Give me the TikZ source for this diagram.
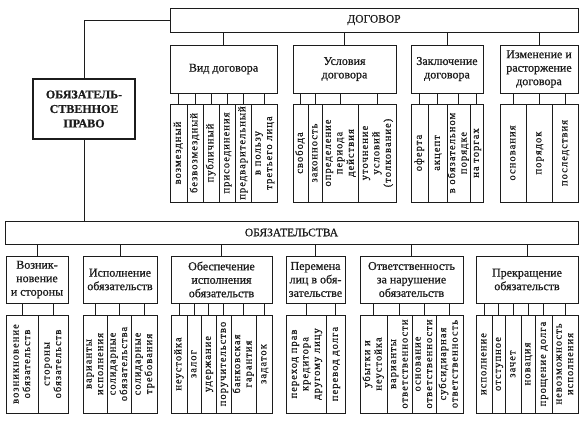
\documentclass[tikz,border=0pt]{standalone}
\usepackage{fontspec}
\usepackage{graphicx}
\setmainfont[FakeBold=0.7]{Liberation Serif}
\newfontfamily\colfont[LetterSpace=10, FakeBold=0.7]{Liberation Serif}
\usepackage{tikz}
\usetikzlibrary{positioning}
\definecolor{ink}{HTML}{1C1C1C}
\tikzset{
  % --- nodes
  box/.style  = {draw=ink, text=ink, line width=0.9pt, align=center,
                 inner sep=2pt, outer sep=0pt, fill=white},
  root/.style = {box, line width=2.2pt, minimum width=102pt, minimum height=60pt,
                 font=\bfseries\fontsize{12}{14.5}\selectfont},
  head/.style = {box, font=\fontsize{11.5}{13}\selectfont},
  grp/.style  = {box, minimum height=48pt, font=\fontsize{12}{13.5}\selectfont},
  col/.style  = {box, inner sep=0pt, anchor=north west, minimum height=98pt,
                 font=\colfont\fontsize{10.5}{11.5}\selectfont},
  % --- edges
  e/.style    = {draw=ink, line width=0.9pt},
}
\newcommand{\vt}[1]{\rotatebox{90}{\begin{tabular}{@{}c@{}}#1\end{tabular}}}

\begin{document}
\begin{tikzpicture}[x=1pt, y=-1pt]
  \useasboundingbox (0,0) rectangle (588,426);

  % ------------------------------------------------------------------ root
  \node[root] (root) at (84,109) {ОБЯЗАТЕЛЬ-\\СТВЕННОЕ\\ПРАВО};

  % ------------------------------------------------------------------ heads
  \node[head, minimum width=408pt, minimum height=24pt] (dog) at (374,20) {ДОГОВОР};
  \node[head, minimum width=573pt, minimum height=23pt] (obl) at (291.5,232.5) {ОБЯЗАТЕЛЬСТВА};

  \draw[e] (root.north) |- (dog.west);
  \draw[e] (root.south) -- (root.south |- obl.north);

  % ------------------------------------------------- contract groups
  \node[grp, minimum width=107pt] (vid)  at (223.5,69) {Вид договора};
  \node[grp, minimum width=103pt] (usl)  at (344.5,69) {Условия\\договора};
  \node[grp, minimum width=72pt]  (zakl) at (447,69)   {Заключение\\договора};
  \node[grp, minimum width=78pt]  (izm)  at (539,69)   {Изменение и\\расторжение\\договора};

  \draw[e] (vid.north)  -- (vid.north |- dog.south)
           (usl.north)  -- (usl.north |- dog.south)
           (zakl.north) -- (zakl.north |- dog.south)
           (izm.north)  -- (izm.north |- dog.south);

  % ------------------------------------------------- contract columns
  \node[col, minimum width=17pt] (v1) at (170,104) {\vt{возмездный}};
  \node[col, minimum width=16pt, right=0pt of v1] (v2) {\vt{безвозмездный}};
  \node[col, minimum width=16pt, right=0pt of v2] (v3) {\vt{публичный}};
  \node[col, minimum width=16pt, right=0pt of v3] (v4) {\vt{присоединения}};
  \node[col, minimum width=16pt, right=0pt of v4] (v5) {\vt{предварительный}};
  \node[col, minimum width=26pt, right=0pt of v5] (v6) {\vt{в пользу\\третьего лица}};

  \node[col, minimum width=15pt] (u1) at (293,104) {\vt{свобода}};
  \node[col, minimum width=14pt, right=0pt of u1] (u2) {\vt{законность}};
  \node[col, minimum width=36pt, right=0pt of u2] (u3) {\vt{определение\\периода\\действия}};
  \node[col, minimum width=38pt, right=0pt of u3] (u4) {\vt{уточнение\\условий\\(толкование)}};

  \node[col, minimum width=17pt] (z1) at (411,104) {\vt{оферта}};
  \node[col, minimum width=19pt, right=0pt of z1] (z2) {\vt{акцепт}};
  \node[col, minimum width=23pt, right=0pt of z2] (z3) {\vt{в обязательном\\порядке}};
  \node[col, minimum width=13pt, right=0pt of z3] (z4) {\vt{на торгах}};

  \node[col, minimum width=26pt] (i1) at (500,104) {\vt{основания}};
  \node[col, minimum width=26pt, right=0pt of i1] (i2) {\vt{порядок}};
  \node[col, minimum width=26pt, right=0pt of i2] (i3) {\vt{последствия}};

  \draw[e] (v1.north) -- (v1.north |- vid.south)  (v2.north) -- (v2.north |- vid.south)
           (v3.north) -- (v3.north |- vid.south)  (v4.north) -- (v4.north |- vid.south)
           (v5.north) -- (v5.north |- vid.south)  (v6.north) -- (v6.north |- vid.south);
  \draw[e] (u1.north) -- (u1.north |- usl.south)  (u2.north) -- (u2.north |- usl.south)
           (u3.north) -- (u3.north |- usl.south)  (u4.north) -- (u4.north |- usl.south);
  \draw[e] (z1.north) -- (z1.north |- zakl.south) (z2.north) -- (z2.north |- zakl.south)
           (z3.north) -- (z3.north |- zakl.south) (z4.north) -- (z4.north |- zakl.south);
  \draw[e] (i1.north) -- (i1.north |- izm.south)  (i2.north) -- (i2.north |- izm.south)
           (i3.north) -- (i3.north |- izm.south);

  % ------------------------------------------------- obligation groups
  \node[grp, minimum width=62pt,  minimum height=47pt] (voz)  at (37,279.5)    {Возник-\\новение\\и стороны};
  \node[grp, minimum width=74pt,  minimum height=47pt] (isp)  at (120,279.5)   {Исполнение\\обязательств};
  \node[grp, minimum width=101pt, minimum height=47pt] (obes) at (221.5,279.5) {Обеспечение\\исполнения\\обязательств};
  \node[grp, minimum width=59pt,  minimum height=47pt] (per)  at (315.5,279.5) {Перемена\\лиц в обя-\\зательстве};
  \node[grp, minimum width=103pt, minimum height=47pt] (otv)  at (411.5,279.5) {Ответственность\\за нарушение\\обязательств};
  \node[grp, minimum width=102pt, minimum height=47pt] (prek) at (527,279.5)   {Прекращение\\обязательств};

  \draw[e] (voz.north)  -- (voz.north |- obl.south)
           (isp.north)  -- (isp.north |- obl.south)
           (obes.north) -- (obes.north |- obl.south)
           (per.north)  -- (per.north |- obl.south)
           (otv.north)  -- (otv.north |- obl.south)
           (prek.north) -- (prek.north |- obl.south);

  % ------------------------------------------------- obligation columns
  \node[col, minimum width=32pt] (o1) at (6,315) {\vt{возникновение\\обязательств}};
  \node[col, minimum width=30pt, right=0pt of o1] (o2) {\vt{стороны\\обязательств}};

  \node[col, minimum width=24pt] (s1) at (83,315) {\vt{варианты\\исполнения}};
  \node[col, minimum width=24pt, right=0pt of s1] (s2) {\vt{солидарные\\обязательства}};
  \node[col, minimum width=26pt, right=0pt of s2] (s3) {\vt{солидарные\\требования}};

  \node[col, minimum width=16pt] (b1) at (171,315) {\vt{неустойка}};
  \node[col, minimum width=14pt, right=0pt of b1] (b2) {\vt{залог}};
  \node[col, minimum width=15pt, right=0pt of b2] (b3) {\vt{удержание}};
  \node[col, minimum width=15pt, right=0pt of b3] (b4) {\vt{поручительство}};
  \node[col, minimum width=25pt, right=0pt of b4] (b5) {\vt{банковская\\гарантия}};
  \node[col, minimum width=16pt, right=0pt of b5] (b6) {\vt{задаток}};

  \node[col, minimum width=40pt] (p1) at (286,315) {\vt{переход прав\\кредитора\\другому лицу}};
  \node[col, minimum width=19pt, right=0pt of p1] (p2) {\vt{перевод долга}};

  \node[col, minimum width=27pt] (t1) at (360,315) {\vt{убытки и\\неустойка}};
  \node[col, minimum width=25pt, right=0pt of t1] (t2) {\vt{варианты\\ответственности}};
  \node[col, minimum width=24pt, right=0pt of t2] (t3) {\vt{основание\\ответственности}};
  \node[col, minimum width=27pt, right=0pt of t3] (t4) {\vt{субсидиарная\\ответственность}};

  \node[col, minimum width=16pt] (r1) at (476,315) {\vt{исполнение}};
  \node[col, minimum width=13pt, right=0pt of r1] (r2) {\vt{отступное}};
  \node[col, minimum width=16pt, right=0pt of r2] (r3) {\vt{зачет}};
  \node[col, minimum width=14pt, right=0pt of r3] (r4) {\vt{новация}};
  \node[col, minimum width=17pt, right=0pt of r4] (r5) {\vt{прощение долга}};
  \node[col, minimum width=26pt, right=0pt of r5] (r6) {\vt{невозможность\\исполнения}};

  \draw[e] (o1.north) -- (o1.north |- voz.south)  (o2.north) -- (o2.north |- voz.south);
  \draw[e] (s1.north) -- (s1.north |- isp.south)  (s2.north) -- (s2.north |- isp.south)
           (s3.north) -- (s3.north |- isp.south);
  \draw[e] (b1.north) -- (b1.north |- obes.south) (b2.north) -- (b2.north |- obes.south)
           (b3.north) -- (b3.north |- obes.south) (b4.north) -- (b4.north |- obes.south)
           (b5.north) -- (b5.north |- obes.south) (b6.north) -- (b6.north |- obes.south);
  \draw[e] (p1.north) -- (p1.north |- per.south)  (p2.north) -- (p2.north |- per.south);
  \draw[e] (t1.north) -- (t1.north |- otv.south)  (t2.north) -- (t2.north |- otv.south)
           (t3.north) -- (t3.north |- otv.south)  (t4.north) -- (t4.north |- otv.south);
  \draw[e] (r1.north) -- (r1.north |- prek.south) (r2.north) -- (r2.north |- prek.south)
           (r3.north) -- (r3.north |- prek.south) (r4.north) -- (r4.north |- prek.south)
           (r5.north) -- (r5.north |- prek.south) (r6.north) -- (r6.north |- prek.south);
\end{tikzpicture}
\end{document}
